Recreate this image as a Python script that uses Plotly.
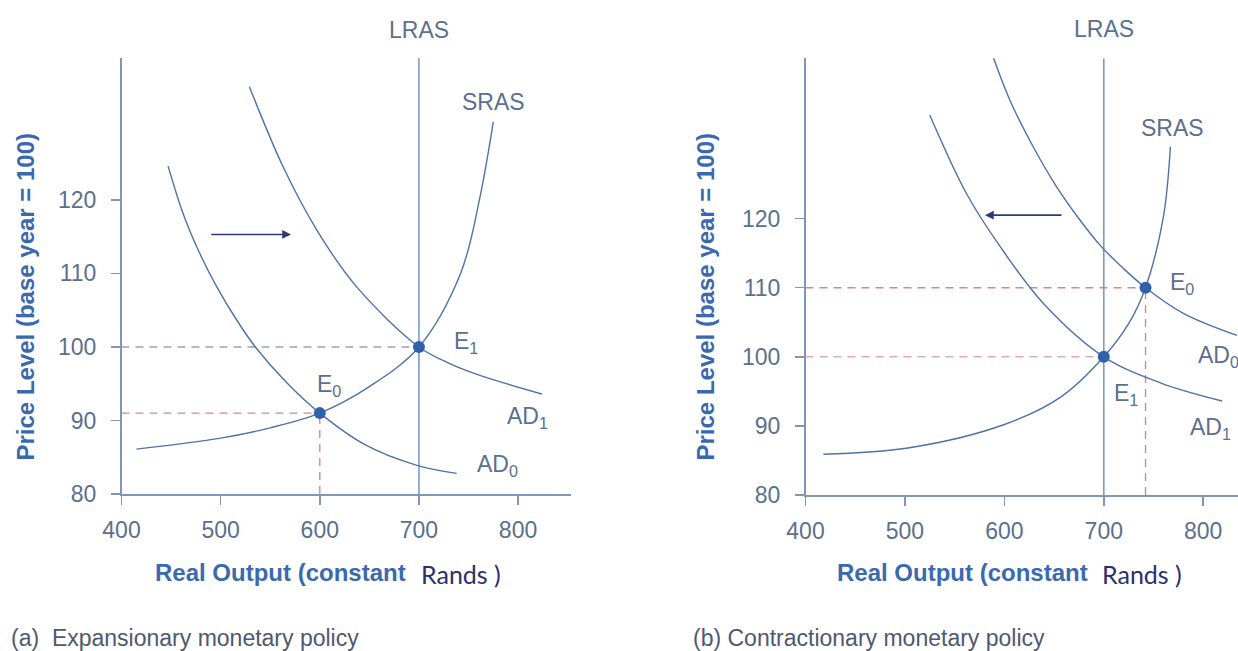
import plotly.graph_objects as go

# ---------------- data ----------------
x_ticks = [400, 500, 600, 700, 800]
y_ticks = [80, 90, 100, 110, 120]

# Panel (a) expansionary
a_sras_x = [415, 500, 550, 600, 650, 700, 742, 761, 775]
a_sras_y = [86.1, 87.6, 89.0, 91.0, 94.6, 100.0, 110.0, 120.0, 130.6]
a_ad0_x = [447, 462, 479, 496, 516, 535, 567, 600, 647, 698, 738]
a_ad0_y = [124.6, 118.2, 112.7, 108.2, 103.7, 100.0, 95.1, 91.0, 86.6, 83.9, 82.8]
a_ad1_x = [529, 563, 597, 637, 700, 730, 760, 824]
a_ad1_y = [135.4, 124.5, 115.9, 108.2, 100.0, 97.8, 96.2, 93.6]
a_lras = 700
a_eq_x = [600, 700]
a_eq_y = [91, 100]
a_eq_names = ["E<sub>0</sub>", "E<sub>1</sub>"]
a_arrow = [(489, 115.3), (571, 115.3)]  # tail, head

# Panel (b) contractionary
b_sras_x = [418, 503, 600, 657, 700, 725, 742, 760, 767]
b_sras_y = [85.9, 86.8, 90.2, 94.2, 100.0, 104.8, 110.0, 120.3, 130.4]
b_ad0_x = [589, 605.7, 629, 652.6, 676, 696, 719.6, 742, 780, 834]
b_ad0_y = [143.3, 137.1, 130.4, 124.6, 119.8, 116.2, 112.8, 110.0, 106.3, 103.1]
b_ad1_x = [525, 562, 596, 640, 700, 757.5, 819]
b_ad1_y = [135.0, 123.6, 115.9, 107.6, 100.0, 96.2, 93.6]
b_lras = 700
b_eq_x = [742, 700]
b_eq_y = [110, 100]
b_eq_names = ["E<sub>0</sub>", "E<sub>1</sub>"]
b_arrow = [(659, 120.5), (580.5, 120.5)]

# ---------------- style ----------------
W, H = 1238, 651
FONT = "Liberation Sans, Arial, sans-serif"
AXC = "#8196b6"
CURVE = "#4f72a6"
TXT = "#5b6f8e"
TITLE = "#3b69ad"
DOT = "#2f62ab"
ARROW = "#2c3a7a"
PINK = "#d9829c"
GRAYD = "#9aa2bc"

fig = go.Figure()

def line(x, y, xa, ya, color=CURVE, width=1.4, dash=None, shape="spline"):
    fig.add_trace(go.Scatter(x=x, y=y, xaxis=xa, yaxis=ya, mode="lines",
                             line=dict(color=color, width=width, dash=dash, shape=shape, smoothing=1.0),
                             hoverinfo="skip", showlegend=False))

# Panel a
line([400, a_eq_x[1]], [a_eq_y[1], a_eq_y[1]], "x", "y", GRAYD, 1.6, "8px,6px", "linear")
line([400, a_eq_x[0]], [a_eq_y[0], a_eq_y[0]], "x", "y", PINK, 1.4, "8px,6px", "linear")
line([a_eq_x[0], a_eq_x[0]], [80, a_eq_y[0]], "x", "y", PINK, 1.4, "8px,6px", "linear")
line([a_lras, a_lras], [80, 139.3], "x", "y", "#7d99c4", 1.6, None, "linear")
line(a_sras_x, a_sras_y, "x", "y")
line(a_ad0_x, a_ad0_y, "x", "y")
line(a_ad1_x, a_ad1_y, "x", "y")
fig.add_trace(go.Scatter(x=a_eq_x, y=a_eq_y, xaxis="x", yaxis="y", mode="markers",
                         marker=dict(color=DOT, size=12), hoverinfo="skip", showlegend=False))

# Panel b
line([400, b_eq_x[0]], [b_eq_y[0], b_eq_y[0]], "x2", "y2", PINK, 1.4, "8px,6px", "linear")
line([b_eq_x[0], b_eq_x[0]], [80, b_eq_y[0]], "x2", "y2", PINK, 1.4, "8px,6px", "linear")
line([400, b_eq_x[1]], [b_eq_y[1], b_eq_y[1]], "x2", "y2", "#e2a8b8", 1.6, "8px,6px", "linear")
line([b_lras, b_lras], [80, 143.2], "x2", "y2", "#7d99c4", 1.6, None, "linear")
line(b_sras_x, b_sras_y, "x2", "y2")
line(b_ad0_x, b_ad0_y, "x2", "y2")
line(b_ad1_x, b_ad1_y, "x2", "y2")
fig.add_trace(go.Scatter(x=b_eq_x, y=b_eq_y, xaxis="x2", yaxis="y2", mode="markers",
                         marker=dict(color=DOT, size=12), hoverinfo="skip", showlegend=False))

axis_common = dict(showline=True, linecolor=AXC, linewidth=1.5, ticks="outside", ticklen=9,
                   tickcolor=AXC, tickwidth=1.5, showgrid=False, zeroline=False, automargin=False,
                   tickfont=dict(family=FONT, size=23, color=TXT), fixedrange=True)

fig.update_layout(
    width=W, height=H, margin=dict(l=0, r=0, t=0, b=0, pad=0), autosize=False,
    paper_bgcolor="white", plot_bgcolor="white",
    xaxis=dict(domain=[121.5 / W, 571 / W], range=[400, 853.4], tickvals=x_ticks,
               anchor="y", ticklabelstandoff=6, **axis_common),
    yaxis=dict(domain=[1 - 494 / H, 1 - 58 / H], range=[80, 139.3], tickvals=y_ticks,
               anchor="x", ticklabelstandoff=10, **axis_common),
    xaxis2=dict(domain=[805.5 / W, 1.0], range=[400, 835.0], tickvals=x_ticks,
                anchor="y2", ticklabelstandoff=6, **axis_common),
    yaxis2=dict(domain=[1 - 495 / H, 1 - 58.3 / H], range=[80, 143.2], tickvals=y_ticks,
                anchor="x2", ticklabelstandoff=10, **axis_common),
)

ann = []
def label(text, x, y, xr, yr, xanchor="left", yanchor="middle", size=23, color=TXT, family=FONT, angle=0):
    ann.append(dict(text=text, x=x, y=y, xref=xr, yref=yr, xanchor=xanchor, yanchor=yanchor,
                    showarrow=False, textangle=angle, font=dict(family=family, size=size, color=color)))

# panel a labels
label("LRAS", a_lras, 1 - 30 / H, "x", "paper", "center")
label("SRAS", 775.7, 133.3, "x", "y", "center")
label(a_eq_names[1], 733, 100.6, "x", "y")
label(a_eq_names[0], 595, 94.8, "x", "y")
label("AD<sub>1</sub>", 787, 90.4, "x", "y")
label("AD<sub>0</sub>", 756.5, 83.9, "x", "y")
# panel b labels
label("LRAS", b_lras, 1 - 29 / H, "x2", "paper", "center")
label("SRAS", 769.2, 133.1, "x2", "y2", "center")
label(b_eq_names[0], 764.5, 110.6, "x2", "y2")
label(b_eq_names[1], 708.3, 94.6, "x2", "y2")
label("AD<sub>0</sub>", 793, 100.0, "x2", "y2")
label("AD<sub>1</sub>", 784.7, 89.6, "x2", "y2")

# arrows
for (tail, head), xr, yr in [(a_arrow, "x", "y"), (b_arrow, "x2", "y2")]:
    ann.append(dict(x=head[0], y=head[1], ax=tail[0], ay=tail[1], xref=xr, yref=yr,
                    axref=xr, ayref=yr, text="", showarrow=True, arrowhead=2, arrowsize=1.1,
                    arrowwidth=1.6, arrowcolor=ARROW))

# axis titles and captions (paper coordinates)
def ptext(text, px, py, xanchor="center", yanchor="middle", size=23, color=TXT, family=FONT, angle=0):
    ann.append(dict(text=text, x=px / W, y=1 - py / H, xref="paper", yref="paper",
                    xanchor=xanchor, yanchor=yanchor, showarrow=False, textangle=angle,
                    font=dict(family=family, size=size, color=color)))

ptext("<b>Price Level (base year = 100)</b>", 25, 296.5, size=24, color=TITLE, angle=-90)
ptext("<b>Price Level (base year = 100)</b>", 705, 296.5, size=24, color=TITLE, angle=-90)
ptext("<b>Real Output (constant</b>", 408, 572, xanchor="right", size=24, color=TITLE)
ptext("Rands )", 419, 574, xanchor="left", size=25, color="#2b2f6e", family="Lato, sans-serif")
ptext("<b>Real Output (constant</b>", 1090, 572, xanchor="right", size=24, color=TITLE)
ptext("Rands )", 1100, 574, xanchor="left", size=25, color="#2b2f6e", family="Lato, sans-serif")
ptext("(a)  Expansionary monetary policy", 9, 638, xanchor="left", size=23, color="#4d5970")
ptext("(b) Contractionary monetary policy", 691, 638, xanchor="left", size=23, color="#4d5970")

fig.update_layout(annotations=ann)

fig.write_html("out.html", config={"displayModeBar": False, "staticPlot": True},
               post_script="document.body.style.margin='0';document.body.style.overflow='hidden';")
